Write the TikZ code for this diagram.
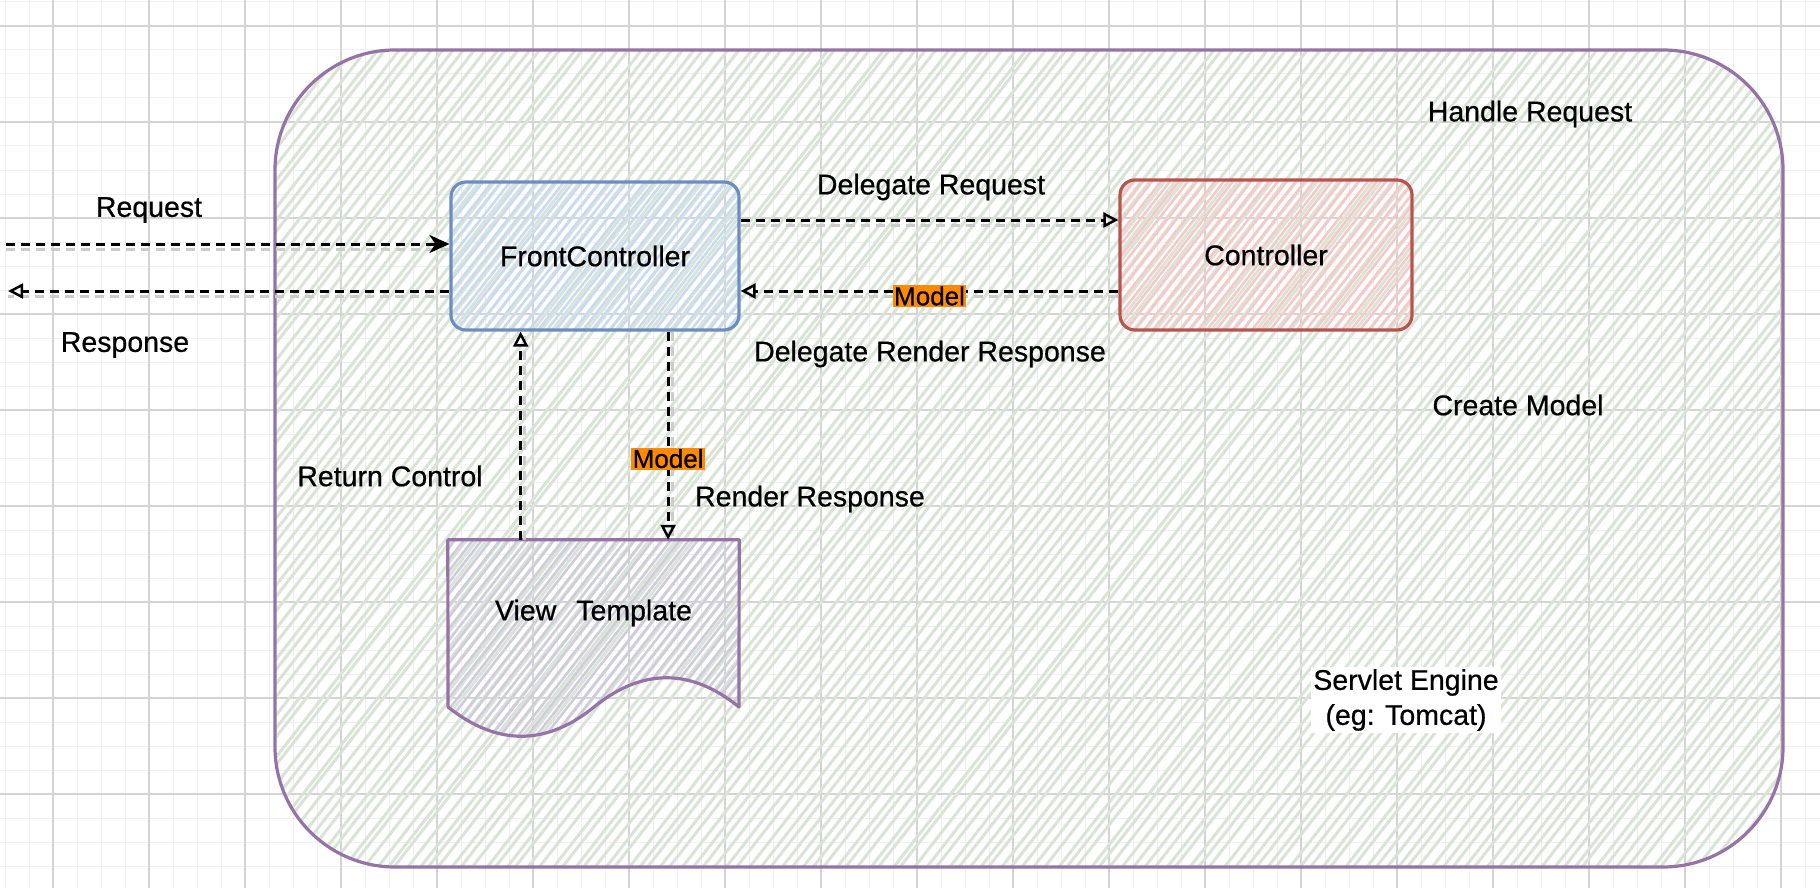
\documentclass[tikz,border=0pt]{standalone}
\usepackage{fontspec}
\setmainfont{Liberation Sans}
\newfontfamily\sketchfont{Liberation Sans}[FakeBold=0.6]
\usetikzlibrary{arrows.meta,calc}
\definecolor{gridminorc}{HTML}{F0F0F0}
\definecolor{gridmajorc}{HTML}{D4D4D4}
\definecolor{hatchgreen}{HTML}{D9E4D6}
\definecolor{enginestroke}{HTML}{9673A6}
\definecolor{fcstroke}{HTML}{6C8EBF}
\definecolor{fchatch}{HTML}{C9DBF3}
\definecolor{ctrlstroke}{HTML}{B85450}
\definecolor{ctrlhatch}{HTML}{F6C9C7}
\definecolor{vthatch}{HTML}{D0CCDE}
\definecolor{modelorange}{HTML}{FF8A00}
\begin{document}
\begin{tikzpicture}[x=1pt,y=-1pt,
  every node/.style={font=\sketchfont\fontsize{28.5}{35}\selectfont, text=black},
  gridminor/.style={draw=gridminorc, line width=1pt},
  gridmajor/.style={draw=gridmajorc, line width=1.2pt},
  hatchline/.style={line width=3pt, line cap=round},
  conn/.style={draw=black, line width=3pt, dash pattern=on 9pt off 6pt},
  hshadow/.style={preaction={draw=black!20, line width=3pt, dash pattern=on 9pt off 6pt, arrows=-, transform canvas={yshift=-5pt}}},
  vshadow/.style={preaction={draw=black!20, line width=3pt, dash pattern=on 9pt off 6pt, arrows=-, transform canvas={xshift=4pt}}},
  opentip/.style={-{Triangle[open, length=15pt, width=15pt, line width=2.5pt]}},
  filledtip/.style={-{Stealth[length=20pt, width=18pt, inset=6pt]}},
  modelbox/.style={fill=modelorange, inner sep=1.5pt, font=\sketchfont\fontsize{26}{30}\selectfont},
  fcbox/.style={draw=fcstroke, line width=3.2pt, rounded corners=15pt, minimum width=288pt, minimum height=148pt, inner sep=0pt},
  ctrlbox/.style={draw=ctrlstroke, line width=3.2pt, rounded corners=15pt, minimum width=292pt, minimum height=150pt, inner sep=0pt},
  vtbox/.style={minimum width=291pt, minimum height=146pt, inner sep=0pt},
  enginebox/.style={draw=enginestroke, line width=3.2pt, rounded corners=120pt, minimum width=1508pt, minimum height=817pt, inner sep=0pt},
  plainlabel/.style={inner sep=1pt},
  whitelabel/.style={fill=white, align=center, inner sep=2pt}
]
\pgfmathsetseed{7}
\useasboundingbox (0,0) rectangle (1820,888);
\fill[white] (0,0) rectangle (1820,888);
% grid
\foreach \gx in {5,29,...,1820} \draw[gridminor] (\gx,0) -- (\gx,888);
\foreach \gy in {2,26,...,888} \draw[gridminor] (0,\gy) -- (1820,\gy);
\foreach \gx in {53,149,...,1820} \draw[gridmajor] (\gx,0) -- (\gx,888);
\foreach \gy in {26,122,...,888} \draw[gridmajor] (0,\gy) -- (1820,\gy);
% engine hatch
\begin{scope}
  \clip[rounded corners=120pt] (275,50) rectangle (1783,867);
  \foreach \xx in {-340,-329,...,1783} {
    \pgfmathsetmacro{\jit}{\xx+rand*3}
    \draw[hatchline, draw=hatchgreen] (\jit,867) -- ++(638,-817);
  }
\end{scope}
% front controller hatch
\begin{scope}
  \clip[rounded corners=15pt] (451,182) rectangle (739,330);
  \foreach \xx in {340,349,...,739} \draw[hatchline, line width=2.6pt, draw=fchatch] (\xx,330) -- ++(116,-148);
\end{scope}
% controller hatch
\begin{scope}
  \clip[rounded corners=15pt] (1120,180) rectangle (1412,330);
  \foreach \xx in {1000,1009,...,1412} \draw[hatchline, line width=2.6pt, draw=ctrlhatch] (\xx,330) -- ++(117,-150);
\end{scope}
% view template hatch
\begin{scope}
  \clip (448,540) -- (739,540) -- (739,707) .. controls (691,668) and (642,668) .. (594,707) .. controls (546,746) and (497,746) .. (448,707) -- cycle;
  \foreach \xx in {290,299,...,739} \draw[hatchline, line width=2.6pt, draw=vthatch] (\xx,740) -- ++(156,-200);
\end{scope}
% engine border
\node[enginebox] (engine) at (1029,458.5) {};
% boxes
\node[fcbox] (fc) at (595,256) {FrontController};
\node[ctrlbox] (ctrl) at (1266,255) {Controller};
\node[vtbox] (vt) at (593.5,613) {View\hspace{20pt}Template};
\draw[draw=enginestroke, line width=3.2pt, line join=round] (vt.north west) -- (vt.north east) -- (739,707) .. controls (691,668) and (642,668) .. (594,707) .. controls (546,746) and (497,746) .. (448,707) -- cycle;
% free ends
\coordinate (reqstart) at (6,244);
\coordinate (respend) at (8,291);
\coordinate (dry) at (0,220);
\coordinate (mry) at (0,291);
\coordinate (retx) at ($(vt.north west)!0.25!(vt.north east)$);
\coordinate (renx) at ($(vt.north west)!0.756!(vt.north east)$);
% connectors
\draw[conn, hshadow, filledtip] (reqstart) -- (fc.west |- reqstart);
\draw[conn, hshadow, opentip] (fc.west |- respend) -- (respend);
\draw[conn, hshadow, opentip] (fc.east |- dry) -- (ctrl.west |- dry);
\draw[conn, hshadow, opentip] (ctrl.west |- mry) -- node[modelbox, pos=0.5, yshift=-5pt] (m1) {Model} (fc.east |- mry);
\draw[conn, vshadow, opentip] (fc.south -| renx) -- node[modelbox, pos=0.61] (m2) {Model} (renx);
\draw[conn, vshadow, opentip] (retx) -- (fc.south -| retx);
% labels
\node[plainlabel] (lreq) at (149,210) {Request};
\node[plainlabel] (lresp) at (125,345) {Response};
\node[plainlabel] (ldreq) at (931,187) {Delegate Request};
\node[plainlabel] (ldrr) at (930,354) {Delegate Render Response};
\node[plainlabel] (lret) at (390,476) {Return Control};
\node[plainlabel] (lrr) at (810,499) {Render Response};
\node[plainlabel] (lhr) at (1530,114) {Handle Request};
\node[plainlabel] (lcm) at (1518,405) {Create Model};
\node[whitelabel] (lse) at (1406,700) {Servlet Engine\\(eg: Tomcat)};
\end{tikzpicture}
\end{document}
